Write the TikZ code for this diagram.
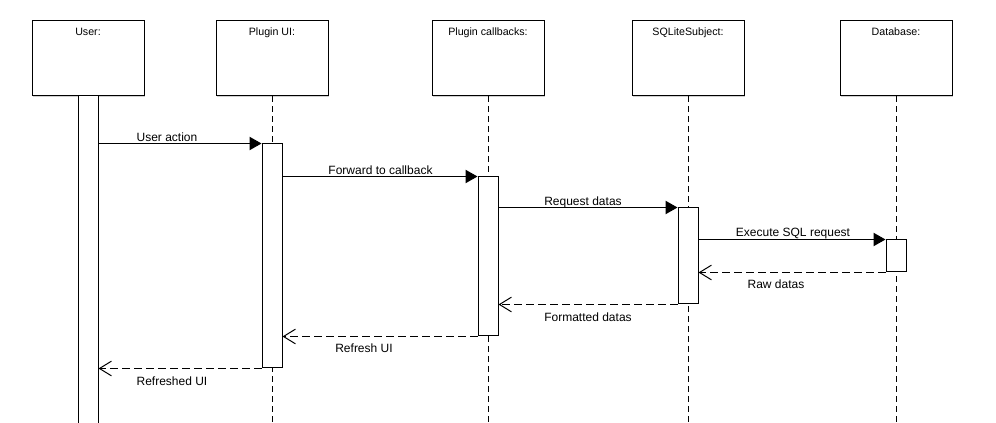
\documentclass[tikz,border=0pt]{standalone}
\usepackage{fontspec}
\setmainfont{Liberation Sans}
\usetikzlibrary{arrows.meta,shadows}
\begin{document}
\begin{tikzpicture}[x=0.75pt,y=-0.75pt,line width=0.75pt,
  header/.style={draw, fill=white, minimum width=84pt, minimum height=56.25pt, inner sep=0pt,
    drop shadow={shadow xshift=1pt, shadow yshift=-1pt, fill=black!30, opacity=0.6}},
  hdrtext/.style={font=\fontsize{8pt}{9pt}\selectfont, anchor=base, inner sep=0pt},
  msg/.style={font=\fontsize{9pt}{10pt}\selectfont, anchor=base, inner sep=0pt},
  actbar/.style={draw, fill=white, minimum width=15pt, inner sep=0pt},
  lifeline/.style={dash pattern=on 4.5pt off 3pt},
  sync/.style={-{Triangle[length=9pt,width=10pt]}},
  reply/.style={dash pattern=on 6pt off 3pt, -{Straight Barb[length=9pt,width=11pt]}},
]
\useasboundingbox (0,0) rectangle (996,423);
\coordinate (bottom) at (0,423);

% header boxes
\node[header] (user) at (88,58.5) {};
\node[header] (ui) at (272,58.5) {};
\node[header] (cb) at (488,58.5) {};
\node[header] (sq) at (688,58.5) {};
\node[header] (db) at (896,58.5) {};

\node[hdrtext] (tuser) at (88,36) {User:};
\node[hdrtext] (tui) at (272,36) {Plugin UI:};
\node[hdrtext] (tcb) at (488,36) {Plugin callbacks:};
\node[hdrtext] (tsq) at (688,36) {SQLiteSubject:};
\node[hdrtext] (tdb) at (896,36) {Database:};

% lifelines
\draw[lifeline] (ui.south) -- (ui.south |- bottom);
\draw[lifeline] (cb.south) -- (cb.south |- bottom);
\draw[lifeline] (sq.south) -- (sq.south |- bottom);
\draw[lifeline] (db.south) -- (db.south |- bottom);

% activation bars
\node[actbar, minimum height=246.75pt] (userbar) at (88,260.5) {};
\node[actbar, minimum height=168pt] (uibar) at (272,256) {};
\node[actbar, minimum height=119.25pt] (cbbar) at (488,256.5) {};
\node[actbar, minimum height=72pt] (sqbar) at (688,256) {};
\node[actbar, minimum height=24pt] (dbbar) at (896,256) {};

% calls
\draw[sync] (uibar.north west -| userbar.east) -- (uibar.north west);
\draw[sync] (cbbar.north west -| uibar.east) -- (cbbar.north west);
\draw[sync] (sqbar.north west -| cbbar.east) -- (sqbar.north west);
\draw[sync] (dbbar.north west -| sqbar.east) -- (dbbar.north west);

% replies
\draw[reply] (dbbar.south west) -- (dbbar.south west -| sqbar.east);
\draw[reply] (sqbar.south west) -- (sqbar.south west -| cbbar.east);
\draw[reply] (cbbar.south west) -- (cbbar.south west -| uibar.east);
\draw[reply] (uibar.south west) -- (uibar.south west -| userbar.east);

% labels
\node[msg] (l1) at (167,141.5) {User action};
\node[msg] (l2) at (380.5,174.5) {Forward to callback};
\node[msg] (l3) at (583,205.5) {Request datas};
\node[msg] (l4) at (793,237) {Execute SQL request};
\node[msg] (l5) at (776,289) {Raw datas};
\node[msg] (l6) at (588,321.5) {Formatted datas};
\node[msg] (l7) at (364,353) {Refresh UI};
\node[msg] (l8) at (172,385.5) {Refreshed UI};
\end{tikzpicture}
\end{document}
